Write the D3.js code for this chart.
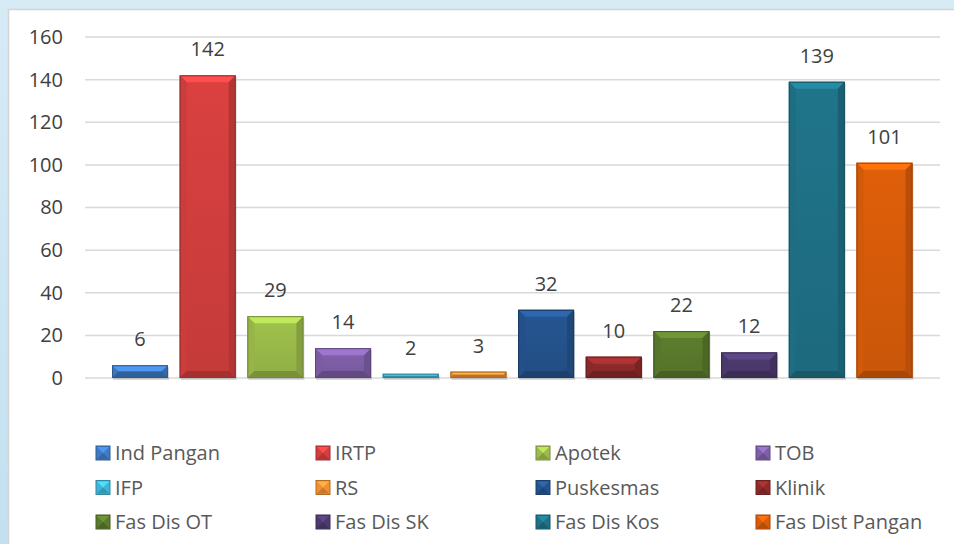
<!DOCTYPE html>
<html>
<head>
<meta charset="utf-8">
<script src="https://cdn.jsdelivr.net/npm/d3@7"></script>
<style>
  html, body { margin: 0; padding: 0; }
  body { width: 954px; height: 544px; overflow: hidden; }
  svg { display: block; font-family: "Open Sans", "DejaVu Sans", sans-serif; }
</style>
</head>
<body>
<svg id="chart" width="954" height="544"></svg>
<script>
// data
var categories = ['Ind Pangan', 'IRTP', 'Apotek', 'TOB', 'IFP', 'RS', 'Puskesmas', 'Klinik',
  'Fas Dis OT', 'Fas Dis SK', 'Fas Dis Kos', 'Fas Dist Pangan'];
var values = [6, 142, 29, 14, 2, 3, 32, 10, 22, 12, 139, 101];
var barColors = ['#3e7bc4', '#d23f3e', '#9bbb4a', '#7f5fa8', '#3fb4d6', '#ee9033',
  '#24538d', '#8e2a2a', '#5a7a2c', '#4c3a6e', '#1f7186', '#d85c0a'];
var yTicks = [0, 20, 40, 60, 80, 100, 120, 140, 160];

var svg = d3.select('#chart');
var defs = svg.append('defs');
var fontSize = '20px';

// background + white panel
var bg = defs.append('linearGradient').attr('id', 'bgGrad')
  .attr('x1', 0).attr('y1', 0).attr('x2', 0).attr('y2', 1);
bg.append('stop').attr('offset', '0%').attr('stop-color', '#d7ebf6');
bg.append('stop').attr('offset', '100%').attr('stop-color', '#c3e0f1');
svg.append('rect').attr('width', 954).attr('height', 544).attr('fill', 'url(#bgGrad)');
svg.append('rect').attr('x', 8.5).attr('y', 9.5).attr('width', 960).attr('height', 560)
  .attr('fill', '#ffffff').attr('stroke', '#d4d4d4').attr('stroke-width', 1.5);

var y = d3.scaleLinear().domain([0, 160]).range([378, 37]);
var x = d3.scalePoint().domain(categories).range([140, 884.5]);
var barW = 56;

// gridlines
svg.append('g').selectAll('line').data(yTicks).enter().append('line')
  .attr('x1', 85).attr('x2', 940)
  .attr('y1', function (d) { return y(d); })
  .attr('y2', function (d) { return y(d); })
  .attr('stroke', '#d9d9d9').attr('stroke-width', 1.5);

// y axis labels
var yAxis = d3.axisLeft(y).tickValues(yTicks).tickSize(0).tickPadding(0);
var ga = svg.append('g').attr('transform', 'translate(63,0)').call(yAxis);
ga.select('.domain').remove();
ga.selectAll('text').attr('font-size', fontSize).attr('fill', '#404040')
  .attr('font-family', '"Open Sans", sans-serif');

// bevelled bars
var bars = svg.append('g').selectAll('g').data(values).enter().append('g');
bars.each(function (v, i) {
  var g = d3.select(this);
  var c = d3.color(barColors[i]);
  var x0 = x(categories[i]) - barW / 2, x1 = x0 + barW;
  var y0 = y(v), y1 = y(0);
  var h = y1 - y0;
  var b = Math.min(7, h / 2);
  var gid = 'g' + i;
  var lg = defs.append('linearGradient').attr('id', gid)
    .attr('x1', 0).attr('y1', 0).attr('x2', 0).attr('y2', 1);
  lg.append('stop').attr('offset', '0%').attr('stop-color', c.brighter(0.1));
  lg.append('stop').attr('offset', '100%').attr('stop-color', c.darker(0.2));
  g.append('rect').attr('x', x0 + 1).attr('y', y0 + 2).attr('width', barW).attr('height', h)
    .attr('fill', '#000').attr('opacity', 0.15);
  g.append('rect').attr('x', x0).attr('y', y0).attr('width', barW).attr('height', h)
    .attr('fill', 'url(#' + gid + ')');
  // top bevel
  g.append('polygon')
    .attr('points', [[x0, y0], [x1, y0], [x1 - b, y0 + b], [x0 + b, y0 + b]].join(' '))
    .attr('fill', c.brighter(0.6));
  // left
  g.append('polygon')
    .attr('points', [[x0, y0], [x0 + b, y0 + b], [x0 + b, y1 - b], [x0, y1]].join(' '))
    .attr('fill', c.darker(0.1));
  // right
  g.append('polygon')
    .attr('points', [[x1, y0], [x1 - b, y0 + b], [x1 - b, y1 - b], [x1, y1]].join(' '))
    .attr('fill', c.darker(0.45));
  // bottom
  g.append('polygon')
    .attr('points', [[x0, y1], [x1, y1], [x1 - b, y1 - b], [x0 + b, y1 - b]].join(' '))
    .attr('fill', c.darker(0.7));
  g.append('rect').attr('x', x0 + 0.5).attr('y', y0 + 0.5).attr('width', barW - 1).attr('height', h - 1)
    .attr('fill', 'none').attr('stroke', c.darker(0.9)).attr('stroke-width', 1);
});

// value labels
svg.append('g').selectAll('text').data(values).enter().append('text')
  .attr('x', function (d, i) { return x(categories[i]); })
  .attr('y', function (d) { return y(d) - 19; })
  .attr('text-anchor', 'middle')
  .attr('font-size', fontSize).attr('fill', '#404040')
  .text(function (d) { return d; });

// legend (3 rows x 4 columns)
var leg = svg.append('g').selectAll('g').data(categories).enter().append('g')
  .attr('transform', function (d, i) {
    return 'translate(' + (96 + (i % 4) * 220) + ',' + (453 + Math.floor(i / 4) * 34.5) + ')';
  });
leg.each(function (d, i) {
  var g = d3.select(this);
  var c = d3.color(barColors[i]);
  g.append('rect').attr('x', 0).attr('y', -7).attr('width', 14).attr('height', 14)
    .attr('fill', c).attr('stroke', c.darker(0.8)).attr('stroke-width', 1);
  g.append('polygon').attr('points', '1,-6 13,-6 7,0').attr('fill', c.brighter(0.6));
  g.append('polygon').attr('points', '1,6 13,6 7,0').attr('fill', c.darker(0.5));
});
leg.append('text').attr('x', 19).attr('y', 0).attr('dy', '0.35em')
  .attr('font-size', fontSize).attr('fill', '#595959')
  .text(function (d) { return d; });
</script>
</body>
</html>
